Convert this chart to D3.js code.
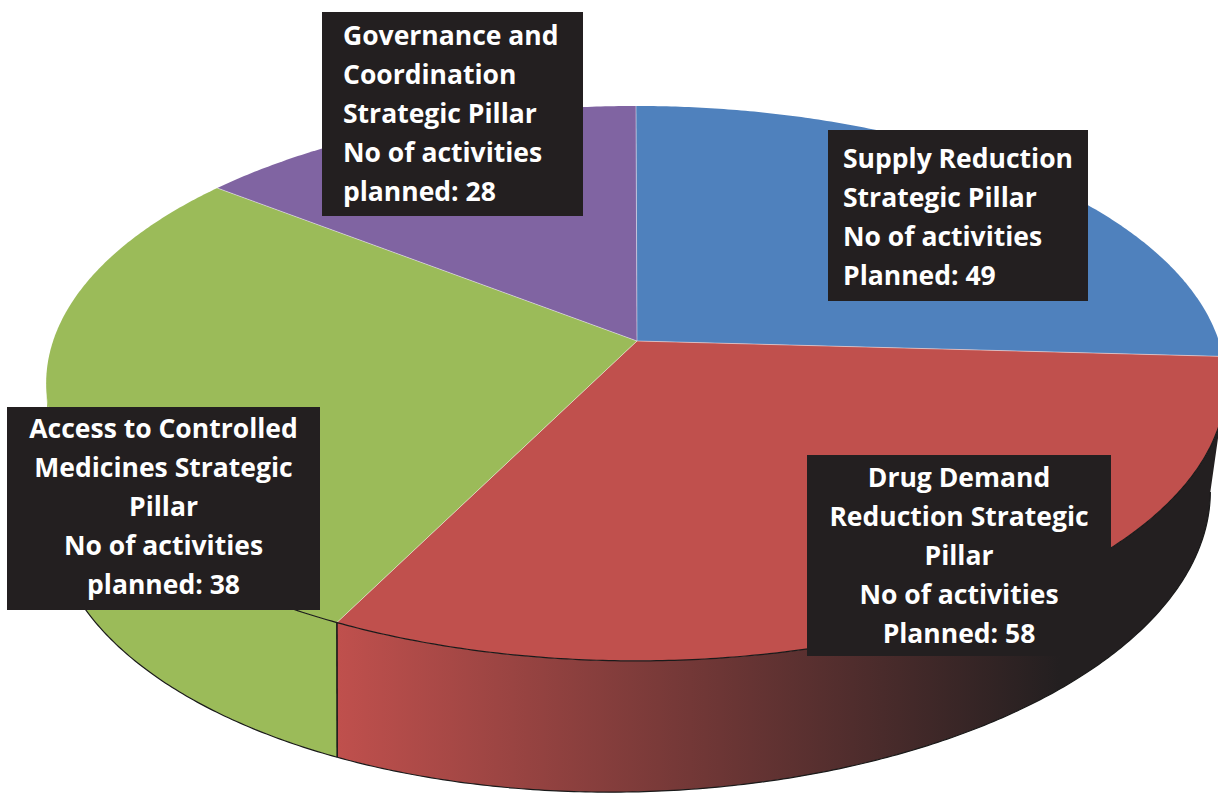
<!DOCTYPE html>
<html>
<head>
<meta charset="utf-8">
<script src="https://cdn.jsdelivr.net/npm/d3@7/dist/d3.min.js"></script>
<style>
  html, body { margin: 0; padding: 0; background: #ffffff; }
  svg { display: block; }
  .lbl { font-family: "Open Sans", Lato, "DejaVu Sans", sans-serif; font-weight: 700; fill: #ffffff; }
</style>
</head>
<body>
<svg id="chart" width="1218" height="793"></svg>
<script>
// ---------------- data ----------------
const categories = [
  "Supply Reduction Strategic Pillar",
  "Drug Demand Reduction Strategic Pillar",
  "Access to Controlled Medicines Strategic Pillar",
  "Governance and Coordination Strategic Pillar"
];
// share of the pie occupied by each slice (percent)
const sliceShare = [25.9, 31.4, 28.3, 14.4];
// numbers printed in the labels
const activitiesPlanned = [49, 58, 38, 28];
const sliceColors = ["#4f81bd", "#c0504d", "#9bbb59", "#8064a2"];
// label text lines (as printed)
const labelLines = [
  ["Supply Reduction", "Strategic Pillar", "No of activities", "Planned: " + activitiesPlanned[0]],
  ["Drug Demand", "Reduction Strategic", "Pillar", "No of activities", "Planned: " + activitiesPlanned[1]],
  ["Access to Controlled", "Medicines Strategic", "Pillar", "No of activities", "planned: " + activitiesPlanned[2]],
  ["Governance and", "Coordination", "Strategic Pillar", "No of activities", "planned: " + activitiesPlanned[3]]
];

// ---------------- layout ----------------
const W = 1218, H = 793;
const view = { cx: 636, cxBottom: 630, cy: 341, focal: 3375, dist: 5.79, tiltDeg: 27.7, depth: 0.2314, taper: 0.09 };
const labelBoxes = [
  { x: 828, y: 130, w: 260, h: 171, align: "start", pad: 15, first: 38 },
  { x: 807, y: 455, w: 304, h: 201, align: "middle", pad: 0, first: 32 },
  { x: 7,   y: 407, w: 313, h: 203, align: "middle", pad: 0, first: 31 },
  { x: 322, y: 12,  w: 261, h: 204, align: "start", pad: 21, first: 33 }
];
const lineStep = 39;
const fontSize = 26.5;
const darkFill = "#231f20";
const edgeColor = "#1a1a1a";

const svg = d3.select("#chart");
const sinT = Math.sin(view.tiltDeg * Math.PI / 180), cosT = Math.cos(view.tiltDeg * Math.PI / 180);

// 3D perspective projection of a rim point (angle a, clockwise from the back), level 0 = top, 1 = bottom
function proj(a, level) {
  const X = Math.sin(a), Z = Math.cos(a);
  const d = view.dist + Z * cosT;
  const tx = view.cx + view.focal * X / d;
  const ty = view.cy - view.focal * Z * sinT / d;
  if (!level) return [tx, ty];
  const db = view.dist + Z * cosT + view.depth * sinT;
  const bx = view.cxBottom + view.focal * X / db;
  const by = view.cy - view.focal * (Z * sinT - view.depth * cosT) / db;
  const k = 1 - view.taper * X;
  return [tx + (bx - tx) * k, ty + (by - ty) * k];
}
function arcPts(a0, a1, level) {
  const n = Math.max(2, Math.ceil(Math.abs(a1 - a0) / (Math.PI / 360)));
  return d3.range(n + 1).map(i => proj(a0 + (a1 - a0) * i / n, level));
}

const pie = d3.pie().sort(null).value(d => d).startAngle(0).endAngle(2 * Math.PI);
const arcs = pie(sliceShare);

// gradients for side faces
const defs = svg.append("defs");
const sideX = d3.scaleLinear().domain([0, 1]).range([335, 1060]);
sliceColors.forEach((c, i) => {
  const g = defs.append("linearGradient").attr("id", "side" + i)
    .attr("gradientUnits", "userSpaceOnUse")
    .attr("x1", sideX(0)).attr("x2", sideX(1)).attr("y1", 0).attr("y2", 0);
  g.append("stop").attr("offset", 0).attr("stop-color", c);
  g.append("stop").attr("offset", 1).attr("stop-color", darkFill);
});

// visible (front-facing) rim range
const cVis = cosT / view.dist;
const visA0 = Math.acos(-cVis), visA1 = 2 * Math.PI - Math.acos(-cVis);
const rimLineEnd = visA1 - 0.35;

const line = d3.line();
const sides = svg.append("g");
const tops = svg.append("g");
const edges = svg.append("g");
const apex = [view.cx + 1, view.cy];

arcs.forEach((s, i) => {
  const a0 = Math.max(s.startAngle, visA0), a1 = Math.min(s.endAngle, visA1);
  if (a1 > a0) {
    const pts = arcPts(a0, a1, 0).concat(arcPts(a1, a0, 1));
    sides.append("path").attr("d", line(pts) + "Z").attr("fill", `url(#side${i})`);
    // outline: top rim (front part), bottom rim
    const r1 = Math.min(a1, rimLineEnd);
    if (r1 > a0) {
      edges.append("path").attr("d", line(arcPts(a0, r1, 0)))
        .attr("fill", "none").attr("stroke", edgeColor).attr("stroke-width", 1.2);
    }
    edges.append("path").attr("d", line(arcPts(a0, a1, 1)))
      .attr("fill", "none").attr("stroke", edgeColor).attr("stroke-width", 1.2);
    // vertical edges where slices meet on the visible rim
    [s.startAngle, s.endAngle].forEach(a => {
      if (a > visA0 && a < visA1) {
        edges.append("path").attr("d", line([proj(a, 0), proj(a, 1)]))
          .attr("fill", "none").attr("stroke", edgeColor).attr("stroke-width", 1.2);
      }
    });
  }
  const topPts = [apex].concat(arcPts(s.startAngle, s.endAngle, 0));
  tops.append("path").attr("d", line(topPts) + "Z").attr("fill", sliceColors[i]);
});
// light separators between top faces
arcs.forEach(s => {
  tops.append("path").attr("d", line([apex, proj(s.startAngle, 0)]))
    .attr("stroke", "#ffffff").attr("stroke-opacity", 0.45).attr("stroke-width", 1);
});

// labels
const lg = svg.append("g");
labelBoxes.forEach((b, i) => {
  lg.append("rect").attr("x", b.x).attr("y", b.y).attr("width", b.w).attr("height", b.h).attr("fill", darkFill);
  const tx = b.align === "middle" ? b.x + b.w / 2 : b.x + b.pad;
  const t = lg.append("text").attr("class", "lbl").attr("font-size", fontSize)
    .attr("text-anchor", b.align);
  labelLines[i].forEach((ln, j) => {
    t.append("tspan").attr("x", tx).attr("y", b.y + b.first + j * lineStep).text(ln);
  });
});
</script>
</body>
</html>
